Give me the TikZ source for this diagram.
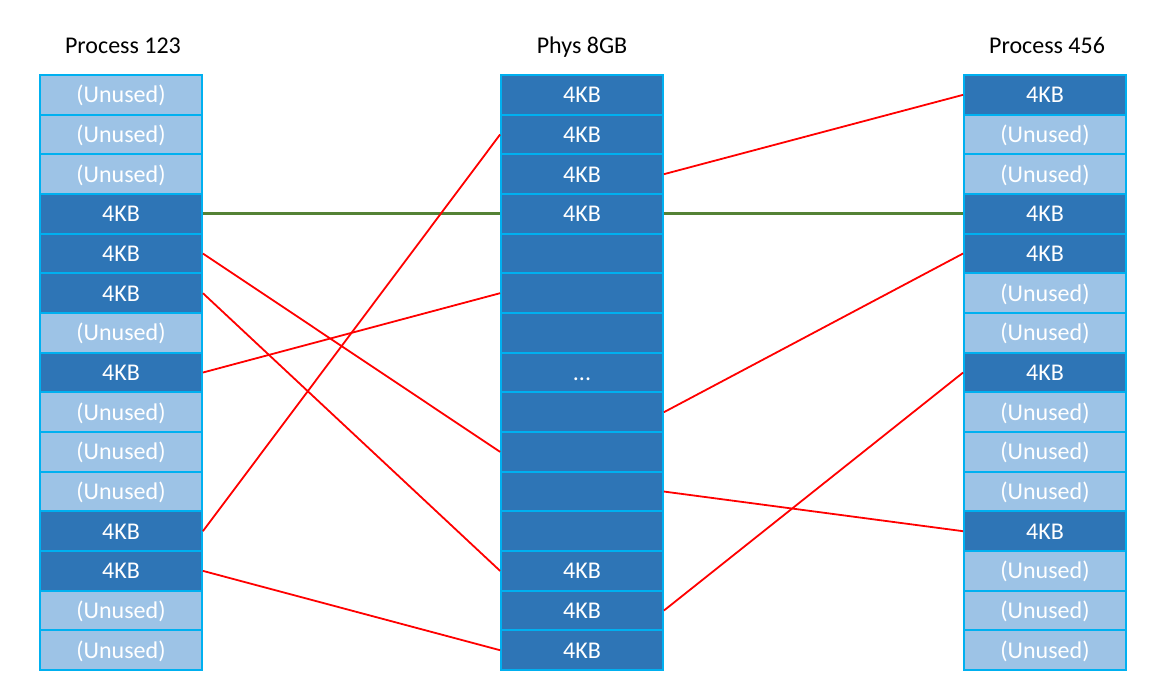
\documentclass[tikz,border=0pt]{standalone}
\usepackage{fontspec}
\setmainfont{Carlito}
\definecolor{cellblue}{HTML}{2E75B6}
\definecolor{palecell}{HTML}{9DC3E6}
\definecolor{cellline}{HTML}{00B0F0}
\definecolor{sharegreen}{HTML}{548235}
\newcommand{\framedots}{...}

\begin{document}
\begin{tikzpicture}[x=1pt,y=-1pt]
\tikzset{every node/.style={font=\fontsize{24}{28}\selectfont},
  cell/.style={draw=cellline, line width=1.8pt, minimum width=162pt, minimum height=39.67pt, inner sep=0pt, text height=18pt, text depth=2pt, text=white},
  used/.style={cell, fill=cellblue},
  unused/.style={cell, fill=palecell},
  title/.style={anchor=base},
  map/.style={red, line width=1.8pt},
  share/.style={sharegreen, line width=3pt}}
\useasboundingbox (0,0) rectangle (1168,695);

    % column titles
    \node[title] (t1) at (123,54) {Process 123};
    \node[title] (t2) at (582,54) {Phys 8GB};
    \node[title] (t3) at (1047,54) {Process 456};

    % process 123 pages
    \foreach \kind/\txt [count=\i] in {unused/(Unused), unused/(Unused), unused/(Unused), used/4KB, used/4KB, used/4KB, unused/(Unused), used/4KB, unused/(Unused), unused/(Unused), unused/(Unused), used/4KB, used/4KB, unused/(Unused), unused/(Unused)}
        \node[\kind] (l\i) at (121, 55.17+39.67*\i) {\txt};

    % physical memory frames
    \foreach \txt [count=\i] in {4KB, 4KB, 4KB, 4KB, {}, {}, {}, \framedots, {}, {}, {}, {}, 4KB, 4KB, 4KB}
        \node[used] (m\i) at (582, 55.17+39.67*\i) {\txt};

    % process 456 pages
    \foreach \kind/\txt [count=\i] in {used/4KB, unused/(Unused), unused/(Unused), used/4KB, used/4KB, unused/(Unused), unused/(Unused), used/4KB, unused/(Unused), unused/(Unused), unused/(Unused), used/4KB, unused/(Unused), unused/(Unused), unused/(Unused)}
        \node[\kind] (r\i) at (1045, 55.17+39.67*\i) {\txt};

    % shared page
    \draw[share] (l4.east) -- (m4.west);
    \draw[share] (m4.east) -- (r4.west);

    % private mappings
    \draw[map] (l5.east) -- (m10.west);
    \draw[map] (l6.east) -- (m13.west);
    \draw[map] (l8.east) -- (m6.west);
    \draw[map] (l12.east) -- (m2.west);
    \draw[map] (l13.east) -- (m15.west);
    \draw[map] (m3.east) -- (r1.west);
    \draw[map] (m9.east) -- (r5.west);
    \draw[map] (m11.east) -- (r12.west);
    \draw[map] (m14.east) -- (r8.west);
\end{tikzpicture}
\end{document}
